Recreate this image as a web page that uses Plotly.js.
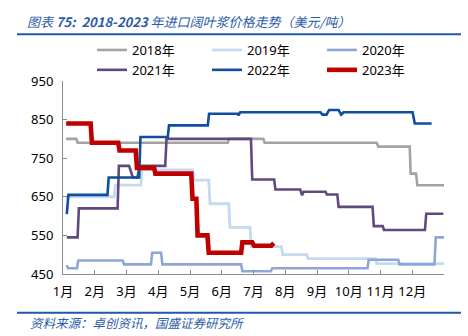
<!DOCTYPE html>
<html>
<head>
<meta charset="utf-8">
<script src="https://cdn.plot.ly/plotly-3.0.1.min.js"></script>
<style>
html,body{margin:0;padding:0;background:#fff;}
#chart{width:468px;height:336px;}
</style>
</head>
<body>
<div id="chart"></div>
<script>
// Month position (1 = 1 Jan, 13 = end of year) and price (USD/t)
var monthTicks = [1,2,3,4,5,6,7,8,9,10,11,12,13];
var monthLabels = ['1月','2月','3月','4月','5月','6月','7月','8月','9月','10月','11月','12月',''];
var seriesNames = ['2018年','2019年','2020年','2021年','2022年','2023年'];

var x2018 = [1.10, 1.42, 1.46, 6.19, 6.23, 7.31, 7.35, 10.88, 10.93, 11.92, 11.95, 12.12, 12.16, 13.0];
var y2018 = [800, 800, 790, 790, 800, 800, 790, 790, 780, 780, 710, 710, 680, 680];

var x2019 = [1.10, 2.61, 2.65, 3.45, 3.49, 5.08, 5.12, 5.59, 5.63, 6.22, 6.26, 6.89, 6.93, 7.88, 7.92, 8.68, 8.72, 10.84, 10.88, 13.0];
var y2019 = [650, 650, 680, 680, 720, 720, 693, 693, 632, 632, 571, 571, 521, 521, 500, 500, 490, 490, 477, 477];

var x2020 = [1.12, 1.16, 1.44, 1.48, 2.88, 2.92, 3.77, 3.81, 4.09, 4.13, 6.61, 6.65, 7.55, 7.59, 10.59, 10.63, 11.56, 11.60, 12.70, 12.74, 13.0];
var y2020 = [473, 465, 465, 485, 485, 475, 475, 505, 505, 475, 475, 457, 457, 465, 465, 487, 487, 475, 475, 545, 545];

var x2021 = [1.12, 1.46, 1.50, 2.72, 2.76, 3.08, 3.20, 3.34, 3.42, 4.22, 4.26, 6.92, 6.96, 7.65, 7.69, 8.47, 8.53, 8.58, 9.27, 9.31, 9.64, 9.68, 10.75, 10.79, 11.07, 11.11, 12.40, 12.44, 12.98];
var y2021 = [545, 545, 620, 620, 730, 730, 700, 700, 730, 730, 800, 800, 695, 695, 669, 669, 654, 663, 663, 656, 656, 624, 624, 574, 574, 564, 564, 606, 606];

var x2022 = [1.12, 1.17, 2.40, 2.44, 3.40, 3.44, 4.30, 4.34, 5.56, 5.60, 6.50, 6.53, 6.58, 9.11, 9.17, 9.30, 9.38, 9.68, 9.76, 9.84, 12.01, 12.08, 12.61];
var y2022 = [605, 655, 655, 700, 700, 805, 805, 835, 835, 865, 865, 861, 869, 869, 863, 863, 875, 875, 863, 869, 869, 840, 840];

var x2023 = [1.10, 1.87, 1.91, 2.74, 2.78, 3.29, 3.33, 3.87, 3.91, 5.04, 5.08, 5.20, 5.24, 5.55, 5.59, 6.61, 6.65, 6.96, 7.02, 7.56, 7.64];
var y2023 = [840, 840, 790, 790, 770, 770, 725, 725, 710, 710, 645, 645, 550, 550, 505, 505, 532, 532, 523, 523, 530];

var xs = [x2018, x2019, x2020, x2021, x2022, x2023];
var ys = [y2018, y2019, y2020, y2021, y2022, y2023];
var colors = ['#A3A3A3', '#C5D9F1', '#8EA6D6', '#604A7B', '#0E4DA0', '#C00000'];
var widths = [2.6, 2.8, 2.6, 2.6, 2.6, 4.6];

var traces = seriesNames.map(function(n, i){
  return {type:'scatter', mode:'lines', name:n, x:xs[i], y:ys[i],
          line:{color:colors[i], width:widths[i]}, hoverinfo:'skip'};
});

var font = 'Noto Sans, Noto Sans CJK SC, sans-serif';
var blue = '#2A5CA8';
var L = 63, R = 444, T = 81, B = 274;
function px2x(p){ return (p - L) / (R - L); }
function py2y(p){ return (B - p) / (B - T); }

var layout = {
  width:468, height:336,
  margin:{l:L, r:468-R, t:T, b:336-B, pad:0},
  paper_bgcolor:'#fff', plot_bgcolor:'#fff',
  font:{family:font, size:13, color:'#000'},
  showlegend:true,
  title:{text:'图表 <b>75:  2018-2023</b> 年进口阔叶浆价格走势（美元/吨）',
         font:{family:'Noto Sans CJK SC, sans-serif', size:13, color:blue, style:'italic'},
         xref:'container', x:27/468, xanchor:'left', yref:'container', y:1-22/336, yanchor:'middle'},
  xaxis:{range:[1,13], tickmode:'array', tickvals:monthTicks, ticktext:monthLabels,
         showgrid:false, zeroline:false, showline:true, linecolor:'#8C8C8C', linewidth:1,
         ticks:'inside', ticklen:4, tickcolor:'#8C8C8C', tickfont:{size:13, family:font},
         ticklabelstandoff:5},
  yaxis:{range:[450,950], tickvals:[450,550,650,750,850,950], showgrid:false, zeroline:false,
         showline:true, linecolor:'#8C8C8C', linewidth:1, ticks:'inside', ticklen:4,
         tickcolor:'#8C8C8C', tickfont:{size:13, family:font}, ticklabelstandoff:6},
  legend:{orientation:'h', x:px2x(92), xanchor:'left', y:py2y(35), yanchor:'top',
          entrywidth:70, entrywidthmode:'pixels', font:{size:13, family:font},
          bgcolor:'rgba(0,0,0,0)', borderwidth:0, itemwidth:30, tracegroupgap:0},
  shapes:[
    {type:'line', xref:'paper', yref:'paper', x0:px2x(17), x1:px2x(461), y0:py2y(34.3), y1:py2y(34.3), line:{color:'#1F5AA6', width:2}},
    {type:'line', xref:'paper', yref:'paper', x0:px2x(17), x1:px2x(461), y0:py2y(312.7), y1:py2y(312.7), line:{color:'#1F5AA6', width:2}}
  ],
  annotations:[
    {text:'资料来源：卓创资讯，国盛证券研究所', xref:'paper', yref:'paper', x:px2x(28), y:py2y(322),
     xanchor:'left', yanchor:'middle', showarrow:false,
     font:{family:'Noto Sans CJK SC, sans-serif', size:12.5, color:blue, style:'italic'}}
  ]
};

Plotly.newPlot('chart', traces, layout, {staticPlot:true, displayModeBar:false});
</script>
</body>
</html>
